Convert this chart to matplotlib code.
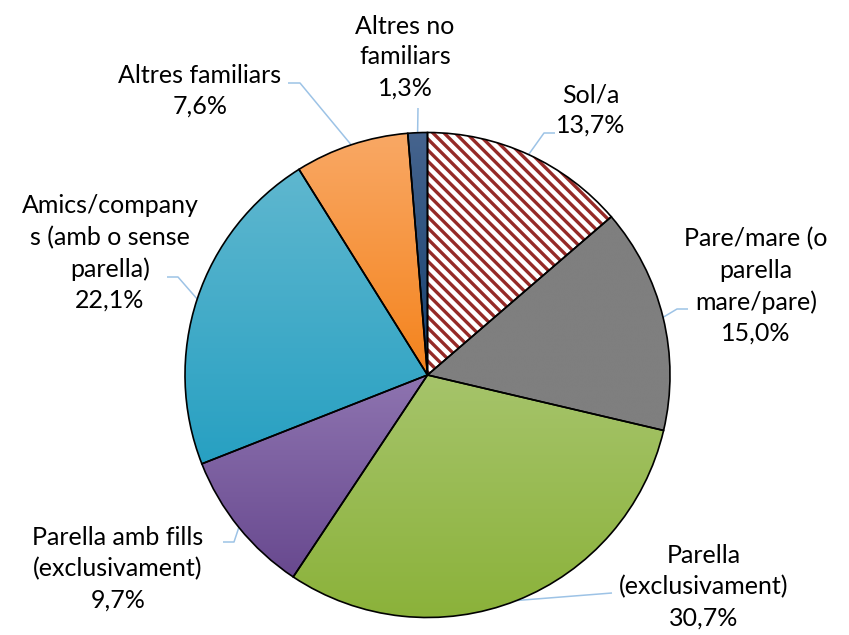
import numpy as np
import matplotlib
matplotlib.use("Agg")
import matplotlib.pyplot as plt
from matplotlib.patches import Wedge
from matplotlib.colors import LinearSegmentedColormap

# data (clockwise from 12 o'clock)
labels = ["Sol/a", "Pare/mare (o\nparella\nmare/pare)", "Parella\n(exclusivament)",
          "Parella amb fills\n(exclusivament)", "Amics/company\ns (amb o sense\nparella)",
          "Altres familiars", "Altres no\nfamiliars"]
values = [13.7, 15.0, 30.7, 9.7, 22.1, 7.6, 1.3]
pct_text = ["13,7%", "15,0%", "30,7%", "9,7%", "22,1%", "7,6%", "1,3%"]

# gradient colours (top, bottom); None = hatched
grad = [None,
        ("#7f7f7f", "#7f7f7f"),
        ("#a6c46b", "#8bb23a"),
        ("#8e74b0", "#68498f"),
        ("#5fb7cf", "#27a0c2"),
        ("#f9a865", "#f4831c"),
        ("#46648e", "#15406f")]

# layout, in pixels (y down)
W, H = 849, 635
cx, cy, R = 427.5, 375, 242.5
label_xy = [(591, 110), (756, 286), (704, 587), (118, 569), (110, 253), (200, 91), (405, 57)]
line_start = [(555, 133), (688, 309), (612, 593), (223, 542), (167, 277), (288, 83), (418, 108)]
elbow_dx = [-11, -11, 0, 11, 11, 12, 0]

plt.rcParams["hatch.linewidth"] = 2.4

fig = plt.figure(figsize=(W / 100, H / 100), dpi=100)
ax = fig.add_axes([0, 0, 1, 1])

wedges, _ = ax.pie(values, startangle=90, counterclock=False,
                   center=(cx, H - cy), radius=R,
                   wedgeprops=dict(facecolor="none", edgecolor="black", linewidth=1.2, zorder=3))

for w, g in zip(wedges, grad):
    if g is None:
        hw = Wedge(w.center, w.r, w.theta1, w.theta2, facecolor="white",
                   edgecolor="#952a27", linewidth=0, hatch="\\\\\\", zorder=1)
        ax.add_patch(hw)
        continue
    ext = w.get_path().get_extents()
    cmap = LinearSegmentedColormap.from_list("g", [g[1], g[0]])
    grad_arr = np.linspace(0, 1, 256).reshape(-1, 1)
    im = ax.imshow(grad_arr, cmap=cmap, origin="lower", aspect="auto",
                   extent=(ext.x0, ext.x1, ext.y0, ext.y1), zorder=1, interpolation="bilinear")
    im.set_clip_path(w)

# labels and leader lines
tot = sum(values)
cum = 0
for i, v in enumerate(values):
    mid = (cum + v / 2) / tot * 2 * np.pi
    cum += v
    ex, ey = cx + R * np.sin(mid), cy - R * np.cos(mid)
    sx, sy = line_start[i]
    xs = [sx, sx + elbow_dx[i], ex]
    ys = [sy, sy, ey]
    ax.plot(xs, [H - y for y in ys], color="#9dc3e6", lw=1.1, zorder=2,
            solid_capstyle="butt")
    lx, ly = label_xy[i]
    ax.text(lx, H - ly, labels[i] + "\n" + pct_text[i], ha="center", va="center",
            fontsize=18, family=["Lato", "DejaVu Sans"], linespacing=1.42, color="black")

ax.set_xlim(0, W)
ax.set_ylim(0, H)
ax.set_aspect("equal")
ax.axis("off")

fig.savefig("out.png", dpi=100)
